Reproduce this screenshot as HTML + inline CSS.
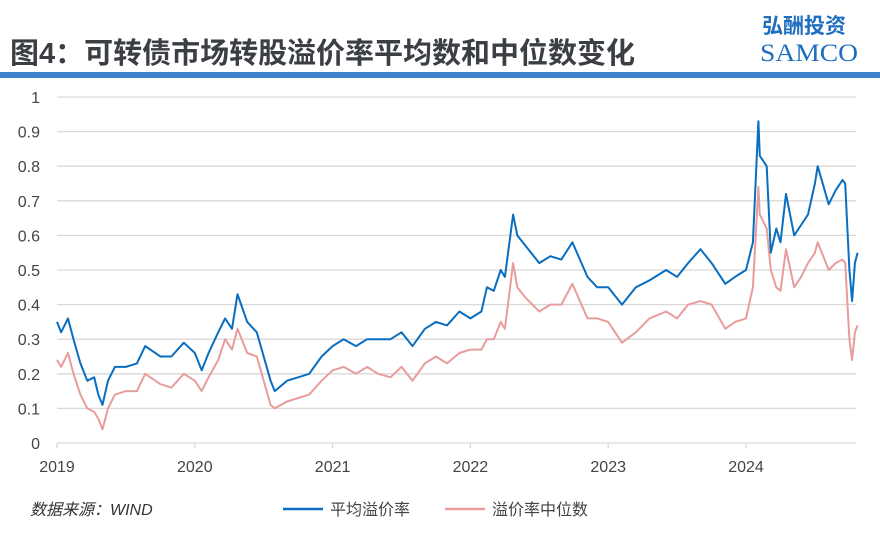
<!DOCTYPE html>
<html><head><meta charset="utf-8"><style>
body{margin:0;background:#fff;width:880px;height:540px;overflow:hidden;font-family:"Liberation Sans","Noto Sans CJK SC",sans-serif}
</style></head><body>
<svg width="880" height="540" style="position:absolute;left:0;top:0">
<text x="10" y="63" font-size="29" font-weight="bold" fill="#3b3f44" font-family="Liberation Sans,Noto Sans CJK SC,sans-serif" textLength="625">图4：可转债市场转股溢价率平均数和中位数变化</text>
<text x="762" y="33" font-size="21" font-weight="bold" fill="#1f6fc0" font-family="Noto Sans CJK SC,sans-serif">弘酬投资</text>
<text x="760" y="61" font-size="25" fill="#1f6fc0" font-family="Liberation Serif,serif" textLength="98" lengthAdjust="spacingAndGlyphs">SAMCO</text>
<rect x="0" y="72" width="880" height="6" fill="#3b82c8"/>
<g id="grid"></g><g id="lines"></g>
<text x="30" y="515" font-size="16" font-style="italic" fill="#333">数据来源：WIND</text>
<g>
<line x1="283" y1="509" x2="323" y2="509" stroke="#0a6ec0" stroke-width="2.5"/>
<text x="330" y="515" font-size="16" fill="#444">平均溢价率</text>
<line x1="445" y1="509" x2="485" y2="509" stroke="#e89c9c" stroke-width="2.5"/>
<text x="492" y="515" font-size="16" fill="#444">溢价率中位数</text>
</g>
</svg>
<script>
const dates=[2019.00,2019.03,2019.08,2019.12,2019.17,2019.22,2019.27,2019.30,2019.33,2019.37,2019.42,2019.50,2019.58,2019.64,2019.75,2019.83,2019.92,2020.00,2020.05,2020.10,2020.17,2020.22,2020.27,2020.31,2020.38,2020.45,2020.50,2020.55,2020.58,2020.67,2020.75,2020.83,2020.92,2021.00,2021.08,2021.17,2021.25,2021.33,2021.42,2021.50,2021.58,2021.67,2021.75,2021.83,2021.92,2022.00,2022.08,2022.12,2022.17,2022.22,2022.25,2022.31,2022.34,2022.40,2022.50,2022.58,2022.66,2022.74,2022.85,2022.92,2023.00,2023.10,2023.20,2023.30,2023.42,2023.50,2023.58,2023.67,2023.75,2023.85,2023.92,2024.00,2024.05,2024.09,2024.10,2024.15,2024.18,2024.22,2024.25,2024.29,2024.35,2024.40,2024.45,2024.50,2024.52,2024.60,2024.65,2024.70,2024.72,2024.75,2024.77,2024.79,2024.81];
const avgPremium=[0.35,0.32,0.36,0.30,0.23,0.18,0.19,0.14,0.11,0.18,0.22,0.22,0.23,0.28,0.25,0.25,0.29,0.26,0.21,0.26,0.32,0.36,0.33,0.43,0.35,0.32,0.25,0.18,0.15,0.18,0.19,0.20,0.25,0.28,0.30,0.28,0.30,0.30,0.30,0.32,0.28,0.33,0.35,0.34,0.38,0.36,0.38,0.45,0.44,0.50,0.48,0.66,0.60,0.57,0.52,0.54,0.53,0.58,0.48,0.45,0.45,0.40,0.45,0.47,0.50,0.48,0.52,0.56,0.52,0.46,0.48,0.50,0.58,0.93,0.83,0.80,0.55,0.62,0.58,0.72,0.60,0.63,0.66,0.75,0.80,0.69,0.73,0.76,0.75,0.50,0.41,0.52,0.55];
const medPremium=[0.24,0.22,0.26,0.20,0.14,0.10,0.09,0.07,0.04,0.10,0.14,0.15,0.15,0.20,0.17,0.16,0.20,0.18,0.15,0.19,0.24,0.30,0.27,0.33,0.26,0.25,0.18,0.11,0.10,0.12,0.13,0.14,0.18,0.21,0.22,0.20,0.22,0.20,0.19,0.22,0.18,0.23,0.25,0.23,0.26,0.27,0.27,0.30,0.30,0.35,0.33,0.52,0.45,0.42,0.38,0.40,0.40,0.46,0.36,0.36,0.35,0.29,0.32,0.36,0.38,0.36,0.40,0.41,0.40,0.33,0.35,0.36,0.45,0.74,0.66,0.62,0.50,0.45,0.44,0.56,0.45,0.48,0.52,0.55,0.58,0.50,0.52,0.53,0.52,0.30,0.24,0.32,0.34];
const yTicks=[0,0.1,0.2,0.3,0.4,0.5,0.6,0.7,0.8,0.9,1];
const yTickLabels=["0","0.1","0.2","0.3","0.4","0.5","0.6","0.7","0.8","0.9","1"];
const xTicks=[2019,2020,2021,2022,2023,2024];
const NS="http://www.w3.org/2000/svg";
const X=d=>57+(d-2019)*137.8, Y=v=>443-v*346;
const grid=document.getElementById('grid'), lines=document.getElementById('lines');
function mk(tag,attrs,parent){const e=document.createElementNS(NS,tag);for(const k in attrs)e.setAttribute(k,attrs[k]);parent.appendChild(e);return e;}
yTicks.forEach((t,i)=>{
  const l=mk('line',{x1:57,x2:856,y1:Y(t),y2:Y(t),stroke:'#d9d9d9','stroke-width':1.3},grid);
  
  
  const tx=mk('text',{x:40,y:Y(t)+6,'font-size':16,fill:'#444','text-anchor':'end'},grid);
  tx.textContent=yTickLabels[i];
  
  
});
xTicks.forEach(t=>{
  const l=mk('line',{x1:X(t),x2:X(t),y1:443,y2:448,stroke:'#d9d9d9','stroke-width':1.3},grid);
  
  
  const tx=mk('text',{x:X(t),y:472,'font-size':16,fill:'#444','text-anchor':'middle'},grid);
  tx.textContent=t;
  
  
});
function series(vals,color,name){
  const d=vals.map((v,i)=>(i?'L':'M')+X(dates[i]).toFixed(1)+','+Y(v).toFixed(1)).join('');
  const p=mk('path',{d:d,fill:'none',stroke:color,'stroke-width':2,'stroke-linejoin':'round'},lines);
  
  
}
series(medPremium,'#e89c9c','median-premium-line');
series(avgPremium,'#0a6ec0','average-premium-line');
</script>
</body></html>
